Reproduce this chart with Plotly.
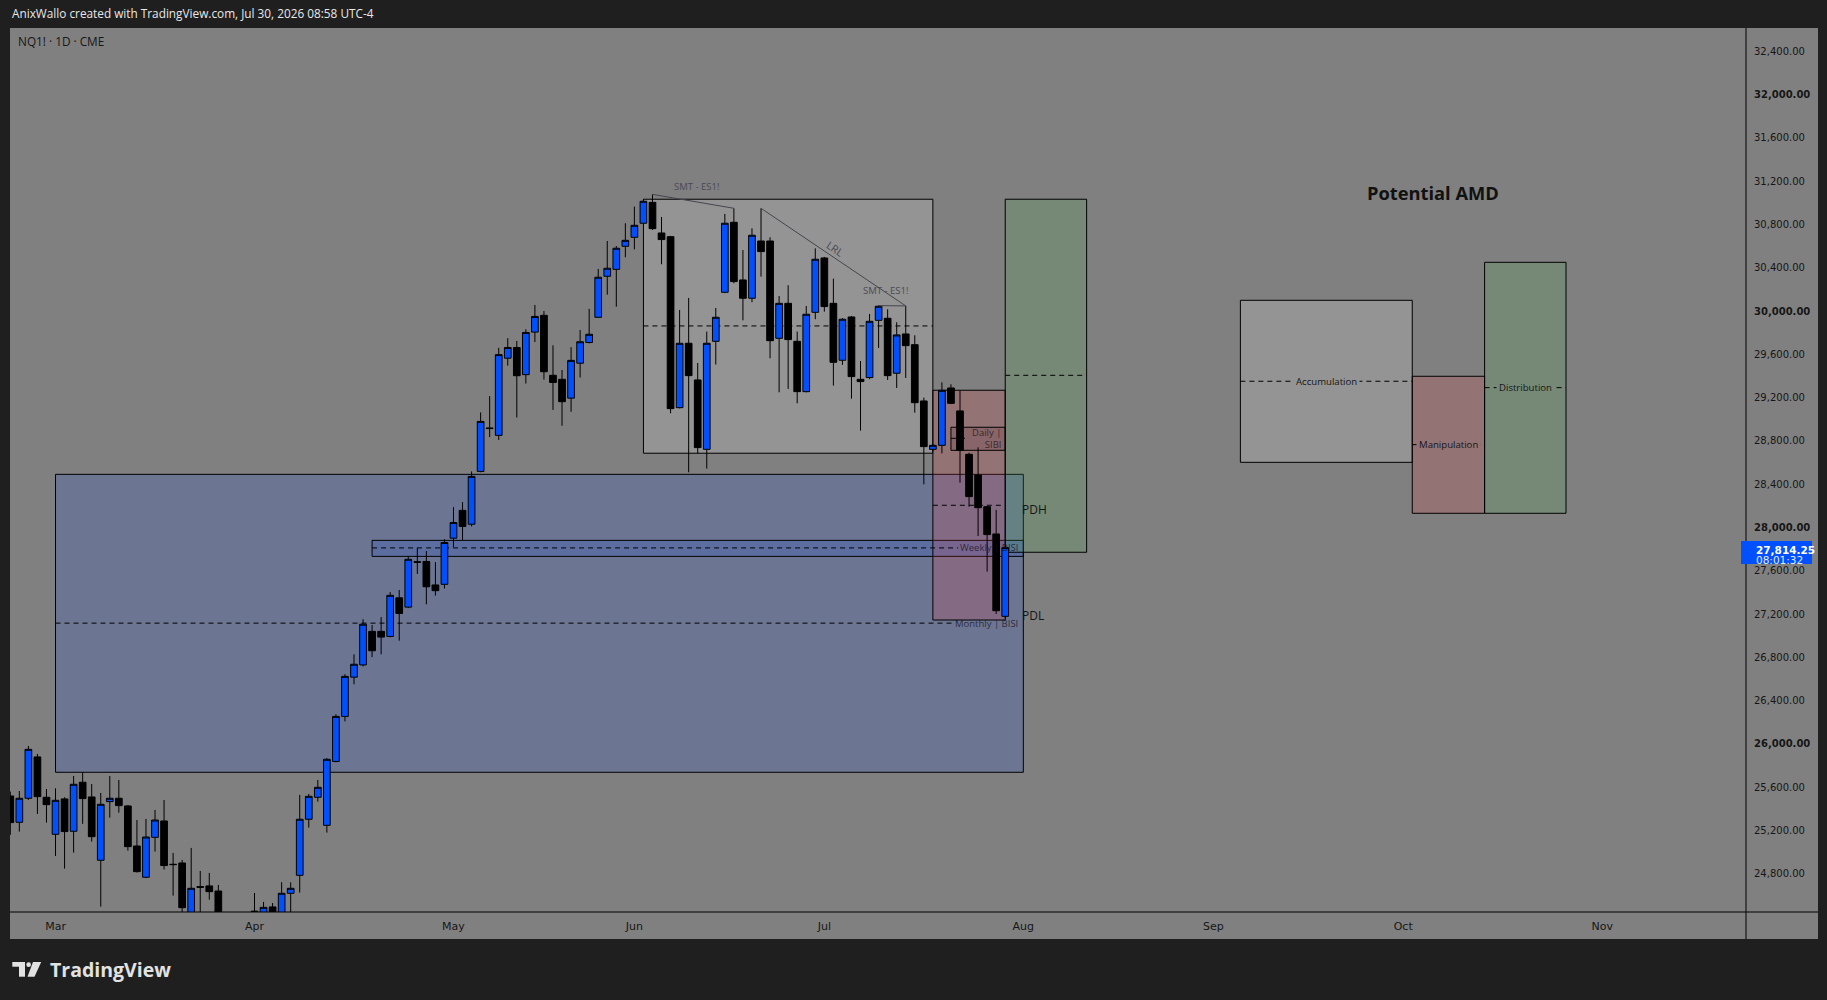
import pandas as pd
import plotly.graph_objects as go

# CME trading days shown on the chart (holidays skipped)
holidays = ["2026-05-25", "2026-06-19", "2026-07-03", "2026-09-07"]
days = pd.bdate_range("2026-02-23", "2026-11-30")
days = days[~days.isin(pd.to_datetime(holidays))]

# NQ1! daily candles, Feb 23 -> Jul 30 2026
opens = [25519, 25276, 25498, 25880, 25507, 25165, 25492, 25193, 25646, 25510,
         24925, 25467, 25498, 25427, 25057, 24768, 25137, 25288, 24888, 24900,
         24330, 24681, 24688, 24641, 24360, 24150, 24300, 24455, 24420, 24494,
         24420, 24620, 24786, 25304, 25507, 25248, 25838, 26254, 26617, 26730,
         27040, 27040, 26993, 27350, 27264, 27684, 27686, 27469, 27475, 27901,
         28158, 28030, 28518, 28920, 28851, 29564, 29663, 29412, 29805, 29960,
         29406, 29369, 29195, 29518, 29709, 29942, 30321, 30385, 30598, 30681,
         30811, 31004, 30721, 30687, 29107, 29702, 29363, 28722, 29720, 30173,
         30820, 30287, 30118, 30647, 30647, 29748, 30071, 29720, 29255, 29988,
         30490, 30071, 29545, 29945, 29369, 29385, 29914, 29933, 29425, 29788,
         29689, 29169, 28722, 28759, 29289, 29077, 28676, 28485, 28192, 27940,
         27179]
highs = [25560, 25565, 25981, 25907, 25584, 25590, 25507, 25704, 25738, 25630,
         25547, 25704, 25667, 25436, 25297, 25307, 25390, 25482, 24993, 24928,
         25039, 24826, 24808, 24697, 24420, 24380, 24430, 24623, 24540, 24530,
         24722, 24722, 25529, 25538, 25667, 25870, 26274, 26644, 26828, 27152,
         27099, 27172, 27403, 27422, 27733, 27812, 27782, 27680, 27891, 28188,
         28234, 28518, 29063, 29214, 29660, 29749, 29723, 29831, 30056, 30000,
         29683, 29455, 29666, 29825, 30020, 30389, 30647, 30601, 30811, 30965,
         31032, 31078, 30869, 30694, 30010, 30121, 29520, 29810, 30028, 30897,
         30949, 30564, 30764, 30949, 30681, 30139, 30238, 29810, 30047, 30579,
         30500, 30299, 29935, 29954, 29538, 29973, 30053, 30016, 29896, 30047,
         29776, 29200, 28770, 29341, 29323, 29264, 28691, 28741, 28199, 28162,
         27830]
lows = [25160, 25190, 25482, 25353, 25273, 24965, 24848, 24996, 25261, 25097,
        24497, 25319, 25365, 25014, 24812, 24760, 25005, 24839, 24598, 24400,
        24280, 24380, 24561, 24250, 24080, 24020, 24180, 24390, 24380, 24390,
        24380, 24430, 24626, 25227, 25467, 25180, 25830, 26208, 26551, 26716,
        26802, 26828, 26985, 26954, 27255, 27571, 27290, 27370, 27436, 27818,
        27884, 28010, 28510, 28835, 28808, 29495, 29016, 29330, 29713, 29366,
        29086, 28940, 29069, 29386, 29700, 29935, 30151, 30040, 30496, 30570,
        30805, 30749, 30432, 29055, 29100, 28510, 28685, 28544, 29505, 30165,
        30256, 29914, 30081, 30318, 29563, 29249, 29280, 29147, 29248, 29924,
        29994, 29311, 29502, 29190, 28895, 29370, 29659, 29363, 29289, 29381,
        29061, 28399, 28712, 28685, 29140, 28414, 28192, 27921, 27592, 27201,
        27161]
closes = [25273, 25498, 25950, 25513, 25439, 25479, 25190, 25627, 25495, 25143,
          25442, 25498, 25430, 25051, 24820, 25140, 25297, 24876, 24885, 24487,
          24666, 24676, 24635, 24360, 24150, 24300, 24380, 24450, 24490, 24420,
          24620, 24666, 25304, 25516, 25599, 25858, 26254, 26624, 26736, 27106,
          26861, 26987, 27373, 27205, 27706, 27678, 27452, 27416, 27861, 28046,
          28010, 28472, 28980, 28914, 29597, 29663, 29402, 29802, 29950, 29439,
          29340, 29162, 29544, 29716, 29785, 30312, 30395, 30580, 30653, 30792,
          31014, 30761, 30660, 29098, 29702, 29403, 28738, 29702, 29942, 30811,
          30272, 30118, 30700, 30549, 29726, 30071, 29736, 29255, 29970, 30478,
          30041, 29526, 29924, 29394, 29348, 29905, 30044, 29403, 29779, 29680,
          29153, 28747, 28759, 29267, 29147, 28713, 28285, 28183, 27934, 27231,
          27814.25]

last_price = "27,814.25"
countdown = "08:01:32"

# drawn zones: [bar from, bar to, price low, price high]
range_box = [70, 102, 28686, 31033]
range_mid = 29862
monthly_bisi = [5, 112, 25738, 28491]
monthly_ce = 27116
weekly_bisi = [40, 112, 27733, 27881]
weekly_ce = 27811
daily_sibi = [104, 110, 28713, 28926]
daily_ce = 28824
red_box = [102, 110, 27145, 29268]
green_box = [110, 119, 27771, 31033]
green_mid = 29406
pdh = 28205
pdl = 27190

# "Potential AMD" projection
acc_box = [136, 155, 28602, 30099]
acc_mid = 29351
man_box = [155, 163, 28131, 29397]
man_mid = 28765
dis_box = [163, 172, 28131, 30450]
dis_mid = 29292

# SMT / LRL lines: (bar, price) pairs
smt1 = [(71, 31078), (80, 30949)]
smt2 = [(96, 30050), (99, 30047)]
lrl = [(83, 30949), (99, 30047)]

price_ticks = list(range(24800, 32401, 400))

BG = "#808080"
DARK = "#1f1f1f"
TXT = "#161616"
FONT = "Open Sans"
AXFONT = "DejaVu Sans"

# plot area in page pixels (for frame pieces outside the plot)
L, R, T, B = 10, 1746, 28, 912


def px(x):
    return (x - L) / (R - L)


def py(y):
    return (B - y) / (B - T)


x = list(range(len(opens)))
month_idx = [i for i in range(1, len(days)) if days[i].month != days[i - 1].month]
month_lbl = [days[i].strftime("%b") for i in month_idx]

fig = go.Figure()
fig.add_trace(go.Candlestick(
    x=x, open=opens, high=highs, low=lows, close=closes,
    increasing=dict(fillcolor="#0050ff", line=dict(color="#000000", width=1)),
    decreasing=dict(fillcolor="#000000", line=dict(color="#000000", width=1)),
    whiskerwidth=0, hoverinfo="skip", showlegend=False,
))

shapes = []
annots = []


def box(b, fill, lw=1):
    shapes.append(dict(type="rect", xref="x", yref="y", x0=b[0], x1=b[1], y0=b[2], y1=b[3],
                       fillcolor=fill, line=dict(color="#000000", width=lw), layer="below"))


def dashed(x0, x1, y, color="#000000"):
    shapes.append(dict(type="line", xref="x", yref="y", x0=x0, x1=x1, y0=y, y1=y,
                       line=dict(color=color, width=1, dash="5px,4px"), layer="below"))


def text(xv, yv, s, size=10, color=TXT, xanchor="center", **kw):
    annots.append(dict(x=xv, y=yv, xref="x", yref="y", text=s, showarrow=False,
                       font=dict(family=FONT, size=size, color=color),
                       xanchor=xanchor, yanchor="middle", **kw))


# chart frame (gray panel incl. price & time scales)
shapes.append(dict(type="rect", xref="paper", yref="paper", x0=0, x1=px(1818), y0=py(939), y1=1,
                   fillcolor=BG, line=dict(width=0), layer="below"))

BLUE = "rgba(28,78,218,0.2)"
RED = "rgba(230,65,75,0.2)"
GREEN = "rgba(76,175,80,0.2)"
WHITE = "rgba(255,255,255,0.16)"

box(monthly_bisi, BLUE)
box(weekly_bisi, BLUE)
box(range_box, WHITE)
box(red_box, RED)
box(daily_sibi, "rgba(70,30,35,0.15)")
box(green_box, GREEN)
dashed(range_box[0], range_box[1], range_mid)
dashed(green_box[0], green_box[1], green_mid)
dashed(monthly_bisi[0], 104.2, monthly_ce)
dashed(weekly_bisi[0], 104.8, weekly_ce)
dashed(daily_sibi[0], 105.7, daily_ce)
dashed(red_box[0], 109.7, pdh)

text(111.6, monthly_ce, "Monthly | BISI", size=9.5, color="rgba(25,20,35,0.8)", xanchor="right")
text(111.6, weekly_ce, "Weekly | BISI", size=9.5, color="rgba(25,20,35,0.8)", xanchor="right")
text(109.7, daily_ce, "Daily |<br>SIBI", size=9.5, color="rgba(35,20,25,0.8)", xanchor="right", align="right")
text(111.6, pdh - 35, "PDH", size=12, xanchor="left")
text(111.6, pdl, "PDL", size=12, xanchor="left")

for seg in (smt1, smt2, lrl):
    shapes.append(dict(type="line", xref="x", yref="y", x0=seg[0][0], y0=seg[0][1],
                       x1=seg[1][0], y1=seg[1][1], line=dict(color="#45454f", width=1)))
text(75.9, 31155, "SMT - ES1!", size=9.5, color="#4a4a55")
text(96.8, 30192, "SMT - ES1!", size=9.5, color="#4a4a55")
text(91.2, 30570, "LRL", size=10.5, color="#4a4a55", textangle=34)

# AMD projection
box(acc_box, WHITE)
box(man_box, RED)
box(dis_box, GREEN)
dashed(acc_box[0], acc_box[1], acc_mid)
dashed(man_box[0], man_box[1], man_mid)
dashed(dis_box[0], dis_box[1], dis_mid)
text((acc_box[0] + acc_box[1]) / 2, acc_mid, "Accumulation", size=9.6, bgcolor="rgb(148,148,148)", borderpad=2)
text((man_box[0] + man_box[1]) / 2, man_mid, "Manipulation", size=9.6, bgcolor="rgb(148,115,117)", borderpad=2)
text((dis_box[0] + dis_box[1]) / 2, dis_mid, "Distribution", size=9.6, bgcolor="rgb(118,137,118)", borderpad=2)
annots.append(dict(x=157.3, y=31091, xref="x", yref="y", text="<b>Potential AMD</b>", showarrow=False,
                   font=dict(family=FONT, size=18.3, color="#111111")))

# scale separators
shapes.append(dict(type="line", xref="paper", yref="paper", x0=1, x1=1, y0=py(939), y1=1,
                   line=dict(color="#000000", width=1)))
shapes.append(dict(type="line", xref="paper", yref="paper", x0=0, x1=px(1818), y0=0, y1=0,
                   line=dict(color="#000000", width=1)))

# last price tag on the price scale
shapes.append(dict(type="rect", xref="paper", yref="paper", x0=px(1741), x1=px(1812),
                   y0=py(564), y1=py(541), fillcolor="#0050ff", line=dict(width=0)))
annots.append(dict(x=px(1754), y=py(550), xref="paper", yref="paper", text="<b>" + last_price + "</b>",
                   showarrow=False, xanchor="left", yanchor="middle",
                   font=dict(family=AXFONT, size=10.5, color="#ffffff")))
annots.append(dict(x=px(1754), y=py(560), xref="paper", yref="paper", text=countdown,
                   showarrow=False, xanchor="left", yanchor="middle",
                   font=dict(family=AXFONT, size=10.5, color="#e6e9ff")))

# header / footer text
annots.append(dict(x=0, y=py(13), xref="paper", yref="paper",
                   text="AnixWallo created with TradingView.com, Jul 30, 2026 08:58 UTC-4",
                   showarrow=False, xanchor="left", yanchor="middle",
                   font=dict(family=FONT, size=11.8, color="#e8e8e8")))
annots.append(dict(x=px(16), y=py(41), xref="paper", yref="paper", text="NQ1! · 1D · CME",
                   showarrow=False, xanchor="left", yanchor="middle",
                   font=dict(family=FONT, size=11.8, color=TXT)))
annots.append(dict(x=px(48), y=py(969), xref="paper", yref="paper", text="<b>TradingView</b>",
                   showarrow=False, xanchor="left", yanchor="middle",
                   font=dict(family=FONT, size=19.5, color="#e2e2e2")))

# TradingView logo mark
LOGO = "#e2e2e2"
shapes.append(dict(type="rect", xref="paper", yref="paper", x0=px(12.3), x1=px(25), y0=py(966.7), y1=py(962),
                   fillcolor=LOGO, line=dict(width=0)))
shapes.append(dict(type="rect", xref="paper", yref="paper", x0=px(19), x1=px(25), y0=py(976.7), y1=py(962),
                   fillcolor=LOGO, line=dict(width=0)))
shapes.append(dict(type="circle", xref="paper", yref="paper", x0=px(26.3), x1=px(31), y0=py(967), y1=py(962.3),
                   fillcolor=LOGO, line=dict(width=0)))
shapes.append(dict(type="path", xref="paper", yref="paper",
                   path="M {} {} L {} {} L {} {} L {} {} Z".format(px(33), py(962), px(41.2), py(962),
                                                                   px(34.5), py(976.7), px(27.5), py(976.7)),
                   fillcolor=LOGO, line=dict(width=0)))

tick_text = []
for p in price_ticks:
    s = "{:,.2f}".format(p)
    tick_text.append("<b>" + s + "</b>" if p % 2000 == 0 else s)

fig.update_layout(
    width=1827, height=1000,
    margin=dict(l=L, r=1827 - R, t=T, b=1000 - B),
    paper_bgcolor=DARK, plot_bgcolor=BG,
    shapes=shapes, annotations=annots,
    showlegend=False,
    boxgap=0.26, boxgroupgap=0,
    xaxis=dict(range=[-0.033, 191.9], rangeslider=dict(visible=False), showgrid=False, zeroline=False,
               tickmode="array", tickvals=month_idx, ticktext=month_lbl, ticks="",
               tickfont=dict(family=AXFONT, size=11, color=TXT), ticklabelstandoff=6),
    yaxis=dict(range=[24447, 32615], side="right", showgrid=False, zeroline=False,
               tickmode="array", tickvals=price_ticks, ticktext=tick_text, ticks="",
               tickfont=dict(family=AXFONT, size=10, color=TXT), ticklabelstandoff=7),
)

fig.write_html("out.html", config={"displayModeBar": False},
               post_script="document.body.style.margin='0px';")
